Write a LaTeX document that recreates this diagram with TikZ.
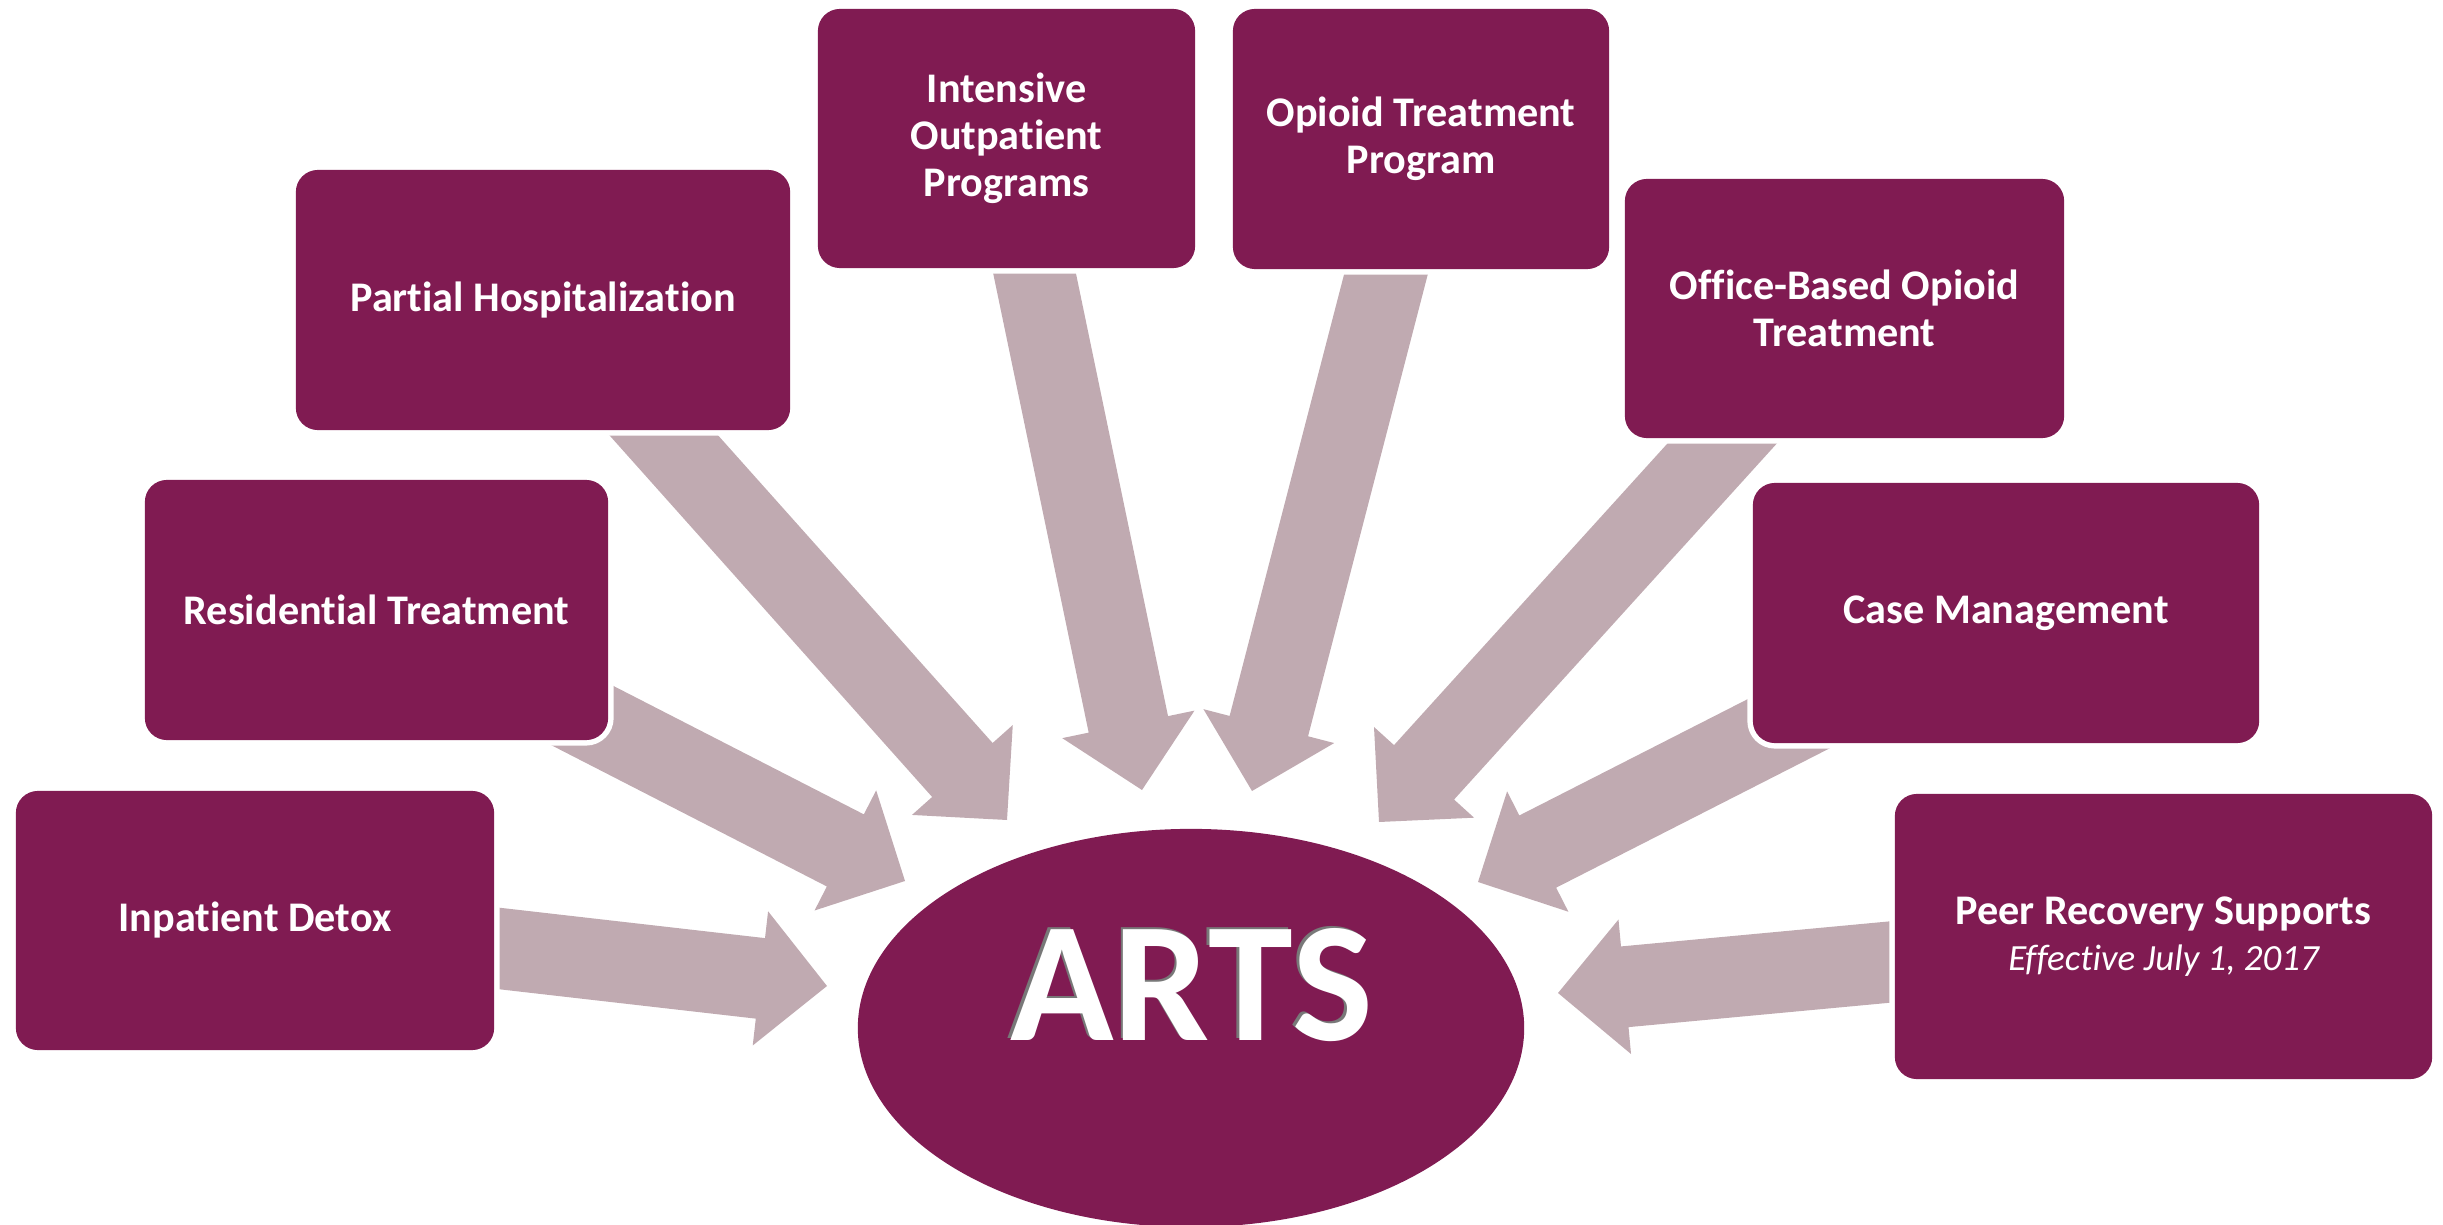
\documentclass[tikz,border=0pt]{standalone}
\usepackage{fontspec}
\setmainfont{Carlito}[Ligatures={NoCommon}, Contextuals={NoAlternate}]
\usetikzlibrary{calc,shapes.geometric}
\definecolor{boxcol}{RGB}{128,27,82}
\definecolor{arrowcol}{RGB}{192,170,177}
\definecolor{shadowcol}{RGB}{120,120,120}
\pgfdeclarelayer{bg}
\pgfsetlayers{bg,main}
\newcommand\boxfont{\fontsize{12}{13.4}\selectfont\bfseries}
\newcommand\blockarrow[3]{%
  \coordinate (#3b) at ($(#2)!0.67cm!(#1.center)$);
  \fill[arrowcol] ($(#1.center)!0.405cm!90:(#2)$) -- ($(#3b)!0.405cm!90:(#2)$)
    -- ($(#3b)!0.675cm!90:(#2)$) -- (#2) -- ($(#3b)!0.675cm!-90:(#2)$)
    -- ($(#3b)!0.405cm!-90:(#2)$) -- ($(#1.center)!0.405cm!-90:(#2)$) -- cycle;
}
\begin{document}
\begin{tikzpicture}[x=0.01cm,y=-0.01cm,
  box/.style={rectangle, rounded corners=0.22cm, fill=boxcol, text=white, inner sep=0pt,
    align=center, font=\boxfont, preaction={draw=white, line width=0.11cm}},
  artsfont/.style={font=\fontsize{48.6}{58}\selectfont\bfseries}]
\useasboundingbox (0,0) rectangle (2443,1225);

\node[box, minimum width=4.78cm, minimum height=2.59cm] (detox) at (255,920.5) {Inpatient Detox};
\node[box, minimum width=4.63cm, minimum height=2.60cm] (resid) at (376.5,610) {Residential Treatment};
\node[box, minimum width=4.94cm, minimum height=2.60cm] (partial) at (543,300) {Partial Hospitalization};
\node[box, minimum width=3.77cm, minimum height=2.59cm] (intensive) at (1006.5,138.5) {Intensive\\Outpatient\\Programs};
\node[box, minimum width=3.76cm, minimum height=2.60cm] (otp) at (1421,139) {Opioid Treatment\\Program};
\node[box, minimum width=4.39cm, minimum height=2.59cm] (obot) at (1844.5,308.5) {Office-Based Opioid\\Treatment};
\node[box, minimum width=5.06cm, minimum height=2.60cm] (case) at (2006,613) {Case Management};
\node[box, minimum width=5.37cm, minimum height=2.85cm] (peer) at (2163.5,936.5) {Peer Recovery Supports\\[-0.5pt]{\fontsize{10.5}{12}\selectfont\mdseries\itshape Effective July 1, 2017}};

\node[ellipse, fill=boxcol, minimum width=6.66cm, minimum height=3.98cm, inner sep=0pt] (arts) at (1191,1028) {};
\node[artsfont, text=shadowcol, anchor=base, inner sep=0pt] (artsshadow) at (1189,1038) {ARTS};
\node[artsfont, text=white, anchor=base, inner sep=0pt] (artstext) at (1191.5,1040.5) {ARTS};

\coordinate (t1) at (827,986);
\coordinate (t2) at (905,881);
\coordinate (t3) at (1007,820);
\coordinate (t4) at (1142,790);
\coordinate (t5) at (1252,791);
\coordinate (t6) at (1379,822);
\coordinate (t7) at (1478,882);
\coordinate (t8) at (1558,993);

\begin{pgfonlayer}{bg}
\blockarrow{detox}{t1}{a1}
\blockarrow{resid}{t2}{a2}
\blockarrow{partial}{t3}{a3}
\blockarrow{intensive}{t4}{a4}
\blockarrow{otp}{t5}{a5}
\blockarrow{obot}{t6}{a6}
\blockarrow{case}{t7}{a7}
\blockarrow{peer}{t8}{a8}
\end{pgfonlayer}
\end{tikzpicture}
\end{document}
